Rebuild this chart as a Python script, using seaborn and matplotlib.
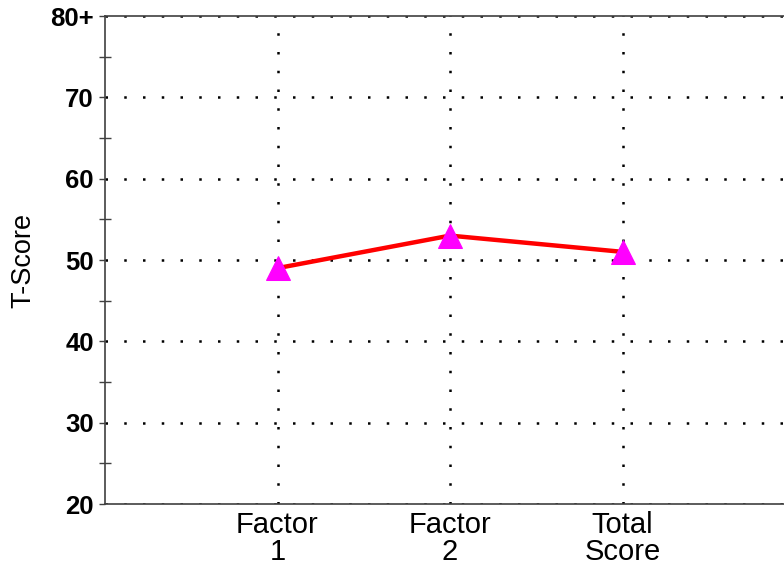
import numpy as np
import pandas as pd
import matplotlib
matplotlib.use("Agg")
import matplotlib.pyplot as plt
import seaborn as sns

categories = ["Factor\n1", "Factor\n2", "Total\nScore"]
scores = [49, 53, 51]
y_ticks = [20, 30, 40, 50, 60, 70, 80]
y_tick_labels = ["20", "30", "40", "50", "60", "70", "80+"]

df = pd.DataFrame({"Scale": categories, "T-Score": scores})

sns.set_style("white")
plt.rcParams["font.family"] = ["Liberation Sans", "DejaVu Sans"]
plt.rcParams["text.color"] = "black"
plt.rcParams["xtick.labelcolor"] = "black"
plt.rcParams["ytick.labelcolor"] = "black"
plt.rcParams["axes.labelcolor"] = "black"

fig = plt.figure(figsize=(7.84, 5.68), dpi=100)
ax = fig.add_axes([105 / 784, 64 / 568, 690 / 784, 488 / 568])

sns.lineplot(data=df, x="Scale", y="T-Score", sort=False, ax=ax,
             color="#ff0000", lw=3.2, marker="^", ms=17.5,
             markerfacecolor="#ff00ff", markeredgecolor="#ff00ff", zorder=5)

ax.set_xlim(-1, 3)
ax.set_ylim(20, 80)
ax.set_yticks(y_ticks)
ax.set_yticklabels(y_tick_labels, fontsize=18.5, fontweight="bold")
ax.set_yticks(np.arange(25, 80, 10), minor=True)
ax.set_xticks(range(len(categories)))
ax.set_xticklabels(categories, fontsize=21, linespacing=0.95)

ax.tick_params(axis="y", which="major", direction="out", length=4, width=1,
               color="#404040", pad=4, left=True)
ax.tick_params(axis="y", which="minor", direction="inout", length=8, width=1,
               color="#404040", left=True)
ax.tick_params(axis="x", length=0, pad=5)

ax.grid(True, axis="both", which="major", color="black",
        linestyle=(0, (1, 6.5)), lw=1.8)

for side in ["left", "bottom", "top", "right"]:
    ax.spines[side].set_color("#404040")
    ax.spines[side].set_linewidth(1.2)

ax.set_xlabel("")
ax.set_ylabel("T-Score", fontsize=19.5)
ax.yaxis.set_label_coords(-0.099, 0.5)

fig.savefig("out.png", dpi=100)
